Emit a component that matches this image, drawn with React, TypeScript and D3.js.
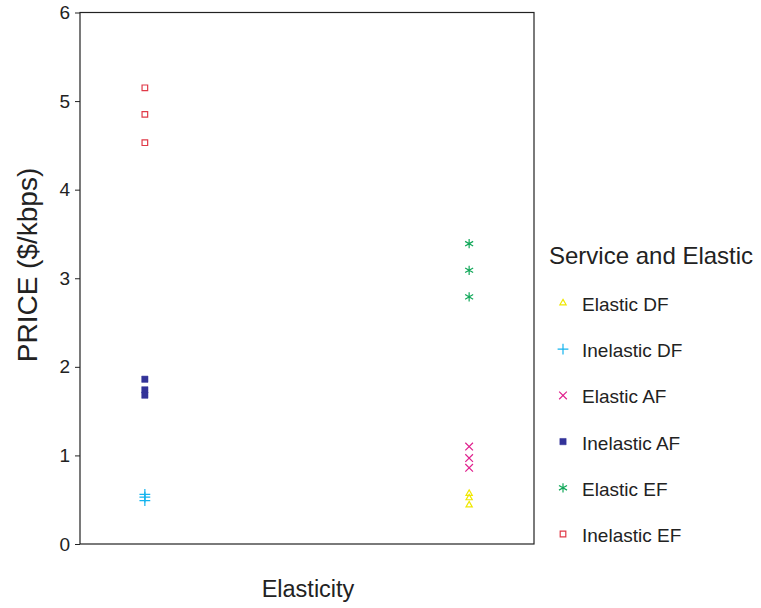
import React, { useEffect, useRef } from 'react';
import * as d3 from 'd3';

const categories = ['Inelastic', 'Elastic'];
const yTicks = [0, 1, 2, 3, 4, 5, 6];

const seriesNames = ['Elastic DF', 'Inelastic DF', 'Elastic AF', 'Inelastic AF', 'Elastic EF', 'Inelastic EF'];
const seriesCategory = ['Elastic', 'Inelastic', 'Elastic', 'Inelastic', 'Elastic', 'Inelastic'];
const elasticDF = [0.57, 0.52, 0.44];
const inelasticDF = [0.56, 0.53, 0.49];
const elasticAF = [1.1, 0.97, 0.86];
const inelasticAF = [1.86, 1.74, 1.68];
const elasticEF = [3.39, 3.09, 2.79];
const inelasticEF = [5.15, 4.85, 4.53];
const seriesValues = [elasticDF, inelasticDF, elasticAF, inelasticAF, elasticEF, inelasticEF];

const colors = ['#f0e800', '#14b4ee', '#e0228e', '#333399', '#12a85a', '#e03a48'];

const App = () => {
  const ref = useRef<SVGSVGElement>(null);

  useEffect(() => {
    const svg = d3.select(ref.current);
    svg.selectAll('*').remove();

    const width = 761, height = 608;
    const left = 80, right = 534, top = 12.5, bottom = 544;
    const font = 'Liberation Sans, Arial, sans-serif';

    svg.attr('width', width).attr('height', height);

    const x = d3.scalePoint().domain(categories).range([left, right]).padding(0.2);
    const y = d3.scaleLinear().domain([0, 6]).range([bottom, top]);

    // plot frame
    svg.append('rect')
      .attr('x', left).attr('y', top)
      .attr('width', right - left).attr('height', bottom - top)
      .attr('fill', 'none').attr('stroke', '#222').attr('stroke-width', 1.2);

    const yAxis = svg.append('g')
      .attr('transform', `translate(${left},0)`)
      .call(d3.axisLeft(y).tickValues(yTicks).tickSize(5).tickPadding(5).tickFormat(d3.format('d')));
    yAxis.select('.domain').remove();
    yAxis.selectAll('line').attr('stroke', '#222');
    yAxis.selectAll('text')
      .attr('font-family', font).attr('font-size', 19).attr('fill', '#222');

    svg.append('text')
      .attr('transform', `translate(37,265) rotate(-90)`)
      .attr('text-anchor', 'middle')
      .attr('font-family', font).attr('font-size', 28).attr('fill', '#222')
      .text('PRICE ($/kbps)');

    svg.append('text')
      .attr('x', 308).attr('y', 597)
      .attr('text-anchor', 'middle')
      .attr('font-family', font).attr('font-size', 23.5).attr('fill', '#222')
      .text('Elasticity');

    const symbols = [
      d3.symbol().type(d3.symbolTriangle2).size(28),
      d3.symbol().type(d3.symbolPlus).size(40),
      d3.symbol().type(d3.symbolTimes).size(40),
      d3.symbol().type(d3.symbolSquare).size(40),
      d3.symbol().type(d3.symbolAsterisk).size(60),
      d3.symbol().type(d3.symbolSquare2).size(40),
    ];

    seriesValues.forEach((vals, i) => {
      const filled = i === 3;
      svg.append('g').selectAll('path')
        .data(vals)
        .join('path')
        .attr('transform', (d) => `translate(${x(seriesCategory[i])},${y(d)})`)
        .attr('d', symbols[i]())
        .attr('fill', filled ? colors[i] : 'none')
        .attr('stroke', colors[i])
        .attr('stroke-width', filled ? 0.5 : 1.2);
    });

    // legend
    svg.append('text')
      .attr('x', 549).attr('y', 264)
      .attr('font-family', font).attr('font-size', 24).attr('fill', '#222')
      .text('Service and Elastic');

    const ly = d3.scalePoint().domain(seriesNames).range([304, 535]);
    seriesNames.forEach((name, i) => {
      const yy = ly(name) as number;
      svg.append('path')
        .attr('transform', `translate(563,${yy - 1})`)
        .attr('d', symbols[i]())
        .attr('fill', i === 3 ? colors[i] : 'none')
        .attr('stroke', colors[i])
        .attr('stroke-width', i === 3 ? 0.5 : 1.2);
      svg.append('text')
        .attr('x', 582).attr('y', yy + 7)
        .attr('font-family', font).attr('font-size', 19).attr('fill', '#222')
        .text(name);
    });
  }, []);

  return <svg ref={ref} style={{ position: 'absolute', left: 0, top: 0 }}></svg>;
};

export default App;
